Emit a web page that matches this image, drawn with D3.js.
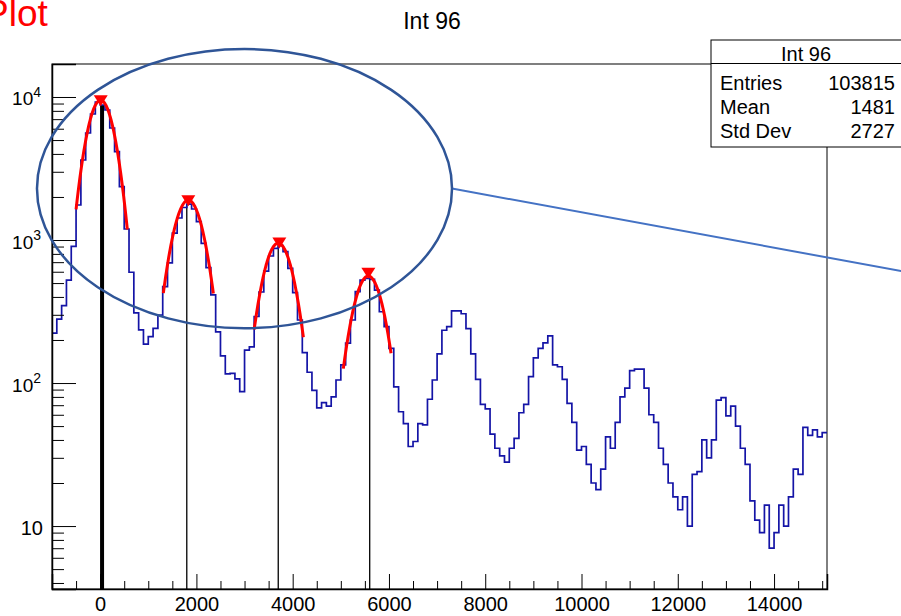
<!DOCTYPE html>
<html>
<head>
<meta charset="utf-8">
<title>Int 96</title>
<script src="https://d3js.org/d3.v7.min.js"></script>
<style>
  body { margin: 0; background: #fff; }
  text { font-family: "Liberation Sans", Arial, Helvetica, sans-serif; }
</style>
</head>
<body>
<script>
// histogram: 161 bins of 100 starting at -1000
var binStart = -1000, binWidth = 100;
var counts = [
  223, 280, 348, 525, 904, 1757, 3626, 5602, 7605, 9226,
  8794, 8112, 6070, 4145, 2359, 1194, 595, 309, 235, 187,
  211, 241, 298, 472, 691, 1119, 1425, 1688, 1785, 1648,
  1343, 948, 642, 413, 228, 155, 116, 117, 107, 87,
  170, 179, 292, 433, 607, 773, 875, 915, 829, 634,
  429, 276, 163, 119, 89, 67, 73, 69, 80, 105,
  134, 190, 276, 435, 525, 540, 530, 447, 315, 248,
  175, 94, 63, 52, 36, 39, 52, 51, 77, 105,
  160, 234, 248, 320, 320, 305, 240, 160, 106, 71,
  66, 44, 35, 31, 28, 35, 41, 62, 71, 111,
  150, 175, 191, 214, 134, 130, 106, 72, 53, 34,
  36, 27, 20, 18, 25, 42, 35, 53, 80, 92,
  122, 125, 125, 92, 60, 53, 35, 27, 20, 16,
  13, 16, 10, 23, 24, 40, 30, 40, 76, 79,
  59, 69, 50, 35, 27, 15, 11, 9, 14, 7,
  9, 14, 10, 16, 25, 23, 49, 43, 47, 42,
  45
];

// gaussian fits (amplitude, mean, sigma, range)
var fitAmp   = [9500, 1900, 950, 560];
var fitMean  = [10, 1832, 3700, 5570];
var fitSigma = [272, 300, 300, 300];
var fitMin   = [-500, 1313, 3200, 5052];
var fitMax   = [565, 2352, 4222, 6043];

// peak markers and peak lines
var peakX = [12, 1832, 3723, 5572];
var peakY = [9500, 1900, 960, 590];
var lineX = [40, 1800, 3700, 5600];
var lineW = [4, 1.3, 1.3, 1.3];

var xMajor = [0, 2000, 4000, 6000, 8000, 10000, 12000, 14000];
var yMajor = [10, 100, 1000, 10000];
var yLabelExp = ["", "2", "3", "4"];

var statNames = ["Entries", "Mean", "Std Dev"];
var statValues = ["103815", "1481", "2727"];

var W = 901, H = 616;
var svg = d3.select("body").append("svg").attr("width", W).attr("height", H);

var x = d3.scaleLinear().domain([-1000, 15100]).range([52, 827]);
var y = d3.scaleLog().domain([3.63, 17010]).range([589, 64]);

var plot = svg.append("g");

// frame
plot.append("rect")
    .attr("x", 52).attr("y", 64)
    .attr("width", 775).attr("height", 525)
    .attr("fill", "none").attr("stroke", "#000").attr("stroke-width", 1);

// x axis minor/major ticks
var xMinor = d3.range(-500, 15100, 500).filter(d => d % 2000 !== 0);
svg.append("g").attr("transform", "translate(0,589)")
    .call(d3.axisBottom(x).tickValues(xMinor).tickSize(-8).tickFormat(""))
    .call(g => g.select(".domain").remove());
var xAx = svg.append("g").attr("transform", "translate(0,589)")
    .call(d3.axisBottom(x).tickValues(xMajor).tickSize(-15).tickPadding(8).tickFormat(d3.format("d")));
xAx.select(".domain").attr("stroke-width", 1.5);
xAx.selectAll("text").attr("font-size", 20).attr("fill", "#000");

// y axis
var yMinor = [];
[1, 10, 100, 1000].forEach(p => d3.range(2, 10).forEach(k => {
    var v = k * p;
    if (v > 3.63 && v < 17010) yMinor.push(v);
}));
svg.append("g").attr("transform", "translate(52,0)")
    .call(d3.axisLeft(y).tickValues(yMinor).tickSize(-12).tickFormat(""))
    .call(g => g.select(".domain").remove());
var yAx = svg.append("g").attr("transform", "translate(52,0)")
    .call(d3.axisLeft(y).tickValues(yMajor).tickSize(-24).tickPadding(9).tickFormat(""));
yAx.select(".domain").attr("stroke-width", 1.5);
yAx.selectAll(".tick").each(function(d, i) {
    var t = d3.select(this).select("text")
        .attr("font-size", 20).attr("fill", "#000").attr("dy", "0.4em");
    if (yLabelExp[i] === "") {
        t.text("10");
    } else {
        t.attr("x", -11);
        t.append("tspan").attr("font-size", 19).text("10");
        t.append("tspan").attr("font-size", 14).attr("dy", "-0.6em").text(yLabelExp[i]);
    }
});

// peak lines
plot.selectAll(".peakline")
    .data(lineX)
    .join("line")
    .attr("class", "peakline")
    .attr("x1", d => x(d)).attr("x2", d => x(d))
    .attr("y1", 589)
    .attr("y2", d => y(counts[Math.floor((d - binStart) / binWidth)]))
    .attr("stroke", "#000")
    .attr("stroke-width", (d, i) => lineW[i]);

// histogram
var pts = counts.map((c, i) => [binStart + i * binWidth, c]);
pts.push([binStart + counts.length * binWidth, counts[counts.length - 1]]);
plot.append("path")
    .datum(pts)
    .attr("fill", "none")
    .attr("stroke", "#1414a6")
    .attr("stroke-width", 1.7)
    .attr("d", d3.line().x(d => x(d[0])).y(d => y(d[1])).curve(d3.curveStepAfter));

// fits
fitAmp.forEach((a, i) => {
    var xs = d3.range(fitMin[i], fitMax[i], 10).concat([fitMax[i]]);
    plot.append("path")
        .datum(xs)
        .attr("fill", "none")
        .attr("stroke", "#ff0000")
        .attr("stroke-width", 3)
        .attr("d", d3.line()
            .x(d => x(d))
            .y(d => y(a * Math.exp(-Math.pow(d - fitMean[i], 2) / (2 * fitSigma[i] * fitSigma[i])))));
});

// peak markers
plot.selectAll(".marker")
    .data(peakX)
    .join("path")
    .attr("class", "marker")
    .attr("transform", (d, i) => `translate(${x(d)},${y(peakY[i])})`)
    .attr("d", "M-7,-5L7,-5L0,6Z")
    .attr("fill", "#ff0000");

// title
svg.append("text")
    .attr("x", 432).attr("y", 29)
    .attr("text-anchor", "middle")
    .attr("font-size", 23)
    .text("Int 96");

// stats box
var sb = svg.append("g");
sb.append("rect")
    .attr("x", 711).attr("y", 40).attr("width", 200).attr("height", 107)
    .attr("fill", "#fff").attr("stroke", "#000").attr("stroke-width", 1);
sb.append("line")
    .attr("x1", 711).attr("x2", 901).attr("y1", 63.5).attr("y2", 63.5)
    .attr("stroke", "#000");
sb.append("text")
    .attr("x", 806).attr("y", 60.5).attr("text-anchor", "middle")
    .attr("font-size", 20).text("Int 96");
sb.selectAll(".sname")
    .data(statNames)
    .join("text")
    .attr("x", 720).attr("y", (d, i) => 90 + i * 24)
    .attr("font-size", 20).text(d => d);
sb.selectAll(".sval")
    .data(statValues)
    .join("text")
    .attr("x", 895).attr("y", (d, i) => 90 + i * 24)
    .attr("text-anchor", "end")
    .attr("font-size", 20).text(d => d);

// annotation: ellipse and connector
var ellX = [-1312, 7310], ellY = [242, 21660];
var cx = (x(ellX[0]) + x(ellX[1])) / 2, cy = (y(ellY[0]) + y(ellY[1])) / 2;
svg.append("line")
    .attr("x1", x(ellX[1])).attr("y1", cy)
    .attr("x2", x(16640)).attr("y2", y(607))
    .attr("stroke", "#4472c4").attr("stroke-width", 2);
svg.append("ellipse")
    .attr("cx", cx).attr("cy", cy)
    .attr("rx", (x(ellX[1]) - x(ellX[0])) / 2)
    .attr("ry", (y(ellY[0]) - y(ellY[1])) / 2)
    .attr("fill", "none").attr("stroke", "#2f5597").attr("stroke-width", 2.5);

// slide title fragment, cut off at the left edge as in the slide
svg.append("text")
    .attr("x", -16).attr("y", 26)
    .attr("font-size", 37).attr("fill", "#ff0000")
    .text("Plot");
</script>
</body>
</html>
